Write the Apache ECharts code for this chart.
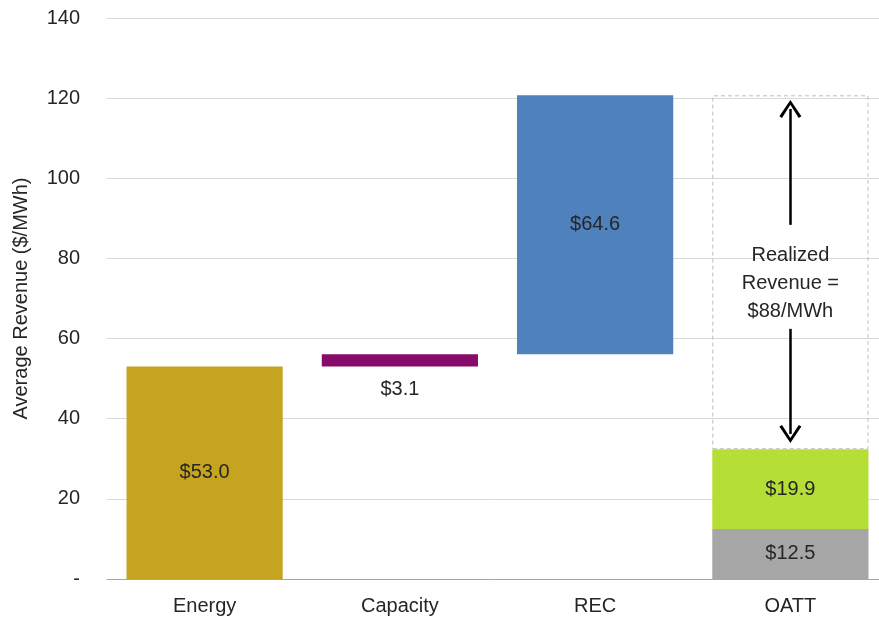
<!DOCTYPE html>
<html>
<head>
<meta charset="utf-8">
<style>
  html, body { margin: 0; padding: 0; background: #fff; }
  #chart { width: 879px; height: 625px; }
</style>
<script src="https://cdn.jsdelivr.net/npm/echarts@6/dist/echarts.min.js"></script>
</head>
<body>
<div id="chart"></div>
<script>
// Revenue components, $/MWh
const categories = ['Energy', 'Capacity', 'REC', 'OATT'];
const energy = 53.0;
const capacity = 3.1;
const rec = 64.6;
const oattTransmission = 12.5;
const oattOther = 19.9;
const yTicks = [0, 20, 40, 60, 80, 100, 120, 140];

const FONT = "'Liberation Sans Narrow', 'Arial Narrow', 'Liberation Sans', sans-serif";
const TEXT = '#262626';

const total = energy + capacity + rec;
const oattTotal = oattTransmission + oattOther;
const realized = total - oattTotal;

// Invisible offsets that float the waterfall steps
const base = [0, energy, energy + capacity, 0];

const fmt = v => '$' + v.toFixed(1);
const labelStyle = {
  show: true, position: 'inside', color: TEXT,
  fontFamily: FONT, fontSize: 20, formatter: p => fmt(p.value)
};

// Open chevron arrowhead, tip at the top
const chevron = 'path://M50,0 L100,80 L88,88 L50,24 L12,88 L0,80 Z';

const chart = echarts.init(document.getElementById('chart'));
chart.setOption({
  animation: false,
  grid: {
    left: 107, right: -9, top: 18, bottom: 46,
    containLabel: false, outerBoundsMode: 'none'
  },
  xAxis: {
    type: 'category',
    data: categories,
    axisLine: { lineStyle: { color: '#a6a6a6', width: 1 } },
    axisTick: { length: 6, lineStyle: { color: '#a6a6a6' } },
    axisLabel: { color: TEXT, fontFamily: FONT, fontSize: 20, margin: 17 }
  },
  yAxis: {
    type: 'value',
    min: yTicks[0], max: yTicks[yTicks.length - 1], interval: 20,
    name: 'Average Revenue ($/MWh)',
    nameLocation: 'middle', nameRotate: 90, nameGap: 76,
    nameTextStyle: { color: TEXT, fontFamily: FONT, fontSize: 20 },
    axisLine: { show: false },
    axisTick: { show: false },
    splitLine: { lineStyle: { color: '#d9d9d9', width: 1 } },
    axisLabel: {
      color: TEXT, fontFamily: FONT, fontSize: 20, margin: 27,
      formatter: v => v === 0 ? '-' : String(v)
    }
  },
  series: [
    {
      type: 'bar', stack: 'w', barWidth: '80%', silent: true,
      itemStyle: { color: 'transparent' },
      data: base
    },
    {
      type: 'bar', stack: 'w', barWidth: '80%',
      itemStyle: { color: '#c5a51f' }, label: labelStyle,
      data: [energy, '-', '-', '-']
    },
    {
      type: 'bar', stack: 'w', barWidth: '80%',
      itemStyle: { color: '#860b6b' },
      label: Object.assign({}, labelStyle, { position: 'bottom', distance: 13 }),
      data: ['-', capacity, '-', '-']
    },
    {
      type: 'bar', stack: 'w', barWidth: '80%',
      itemStyle: { color: '#4f81bd' }, label: labelStyle,
      data: ['-', '-', rec, '-']
    },
    {
      type: 'bar', stack: 'w', barWidth: '80%',
      itemStyle: { color: '#a6a6a6' }, label: labelStyle,
      data: ['-', '-', '-', oattTransmission]
    },
    {
      type: 'bar', stack: 'w', barWidth: '80%',
      itemStyle: { color: '#b5df37' }, label: labelStyle,
      data: ['-', '-', '-', oattOther]
    },
    {
      type: 'bar', stack: 'w', barWidth: '80%',
      itemStyle: {
        color: 'transparent', borderColor: '#bfbfbf',
        borderWidth: 1, borderType: [4, 3]
      },
      label: {
        show: true, position: 'inside', offset: [0, 11],
        color: TEXT, fontFamily: FONT, fontSize: 20, lineHeight: 28,
        formatter: 'Realized\nRevenue =\n$' + Math.round(realized) + '/MWh'
      },
      markLine: {
        silent: true,
        symbol: ['none', chevron],
        symbolSize: [22, 18],
        label: { show: false },
        lineStyle: { color: '#000', width: 2.5, type: 'solid' },
        data: [
          [{ coord: ['OATT', oattTotal + realized * 0.634] }, { coord: ['OATT', total - 3.4] }],
          [{ coord: ['OATT', oattTotal + realized * 0.34] }, { coord: ['OATT', oattTotal + 3.8] }]
        ]
      },
      data: ['-', '-', '-', realized]
    }
  ]
});
</script>
</body>
</html>
